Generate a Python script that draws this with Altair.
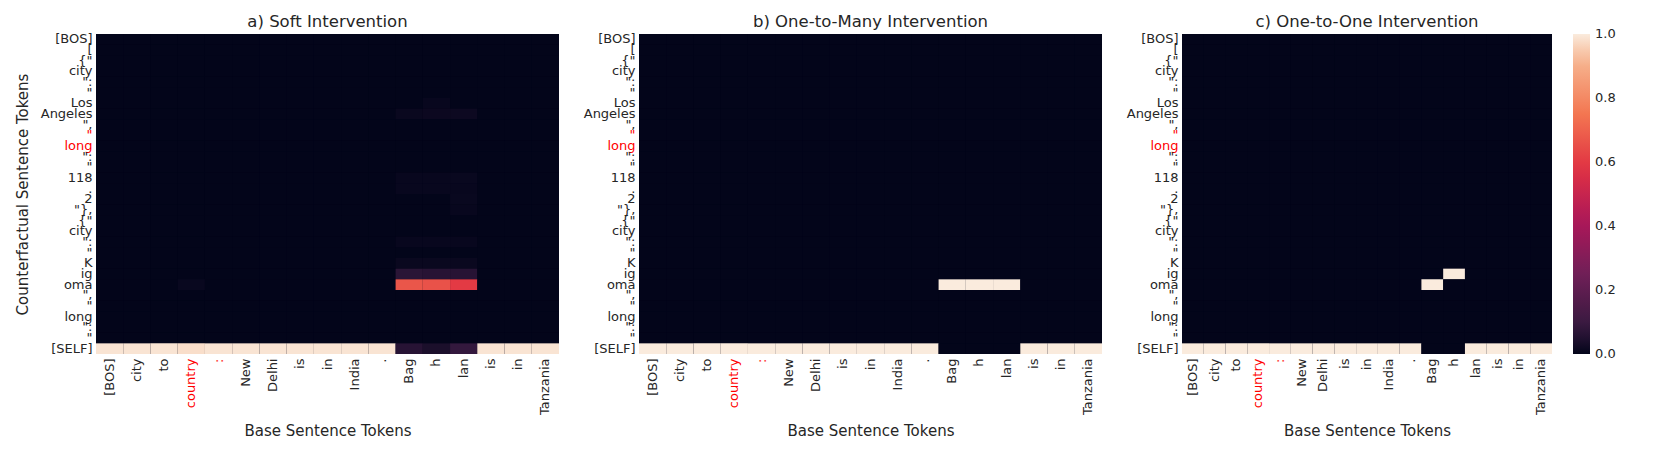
import json
import altair as alt
import pandas as pd

# ---------------- data ----------------
x_tokens = ["[BOS]", "city", "to", "country", ":", "New", "Delhi", "is", "in",
            "India", ".", "Bag", "h", "lan", "is", "in", "Tanzania"]
y_tokens = ["[BOS]", "[", "{\"", "city", "\":", "\"", "Los", "Angeles", "\",", "\"",
            "long", "\":", "\"", "118", ".", "2", "\"},", "{\"", "city", "\":", "\"",
            "K", "ig", "oma", "\",", "\"", "long", "\":", "\"", "[SELF]"]
x_red = [3, 4]
y_red = [9, 10]

panel_titles = ["a) Soft Intervention", "b) One-to-Many Intervention",
                "c) One-to-One Intervention"]
panel_widths = [463, 463, 370]

# last row ([SELF]) of every panel
soft_self = [0.99, 0.99, 0.99, 0.98, 0.99, 0.99, 0.99, 0.99, 0.99, 0.99, 0.99,
             0.06, 0.04, 0.08, 0.99, 0.99, 0.99]
many_self = [1.0, 1.0, 1.0, 1.0, 1.0, 1.0, 1.0, 1.0, 1.0, 1.0, 1.0,
             0.0, 0.0, 0.0, 1.0, 1.0, 1.0]
one_self = [1.0, 1.0, 1.0, 1.0, 1.0, 1.0, 1.0, 1.0, 1.0, 1.0, 1.0,
            0.0, 0.0, 1.0, 1.0, 1.0, 1.0]

# other non-zero cells: (row, col, value)
soft_cells = [(6, 12, 0.008), (7, 11, 0.012), (7, 12, 0.014), (7, 13, 0.016),
              (13, 11, 0.008), (13, 12, 0.008), (13, 13, 0.010),
              (14, 11, 0.008), (14, 12, 0.008), (14, 13, 0.008),
              (15, 13, 0.010), (16, 13, 0.008),
              (19, 11, 0.008), (19, 12, 0.008), (19, 13, 0.008),
              (21, 11, 0.012), (21, 12, 0.012), (21, 13, 0.012),
              (22, 11, 0.065), (22, 12, 0.060), (22, 13, 0.060),
              (23, 3, 0.010),
              (23, 11, 0.67), (23, 12, 0.66), (23, 13, 0.60)]
many_cells = [(23, 11, 1.0), (23, 12, 1.0), (23, 13, 1.0)]
one_cells = [(23, 11, 1.0), (22, 12, 1.0)]

panel_self = [soft_self, many_self, one_self]
panel_cells = [soft_cells, many_cells, one_cells]

# rocket colormap stops (ends nudged a hair past 0 and 1 so the colourbar
# end labels sit centred on the ends, as in matplotlib)
cmap_pos = [-0.0005, 0.0833, 0.25, 0.4167, 0.5833, 0.75, 0.9167, 1.0005]
cmap_col = ["#03051a", "#35193e", "#701f57", "#ad1759", "#e13342", "#f37651",
            "#f6b48f", "#faebdd"]
bar_ticks = [0.0, 0.2, 0.4, 0.6, 0.8, 1.0]

TEXT = "#262626"
FONT = "DejaVu Sans"


def build_df(self_row, cells):
    cd = {(r, c): v for r, c, v in cells}
    recs = []
    n_r = len(y_tokens)
    for r in range(n_r):
        for c in range(len(x_tokens)):
            v = self_row[c] if r == n_r - 1 else cd.get((r, c), 0.0)
            recs.append({"row": r, "col": c, "value": v})
    return pd.DataFrame(recs)


x_label_expr = json.dumps(x_tokens) + "[datum.value]"
y_label_expr = json.dumps(y_tokens) + "[datum.value]"
x_red_test = " || ".join(f"datum.value == {i}" for i in x_red)
y_red_test = " || ".join(f"datum.value == {i}" for i in y_red)

color_scale = alt.Scale(domain=cmap_pos, range=cmap_col, interpolate="rgb")
legend = alt.Legend(title=None, type="gradient", orient="right", direction="vertical",
                    gradientLength=320, gradientThickness=17,
                    gradientStrokeWidth=0, values=bar_ticks, format=".1f",
                    labelFont=FONT, labelFontSize=13, labelColor=TEXT,
                    labelOffset=5, labelOverlap=False,
                    offset=21)


def panel(i):
    df = build_df(panel_self[i], panel_cells[i])
    y_axis = alt.Axis(
        title="Counterfactual Sentence Tokens" if i == 0 else None,
        labelExpr=y_label_expr,
        labelColor={"condition": {"test": y_red_test, "value": "red"}, "value": TEXT},
        ticks=False, domain=False, grid=False, labelPadding=4, labelOverlap=False,
        labelBound=False, labelFont=FONT, labelFontSize=13,
        titleFont=FONT, titleFontSize=15, titleFontWeight="normal",
        titleColor=TEXT, titlePadding=10,
    )
    x_axis = alt.Axis(
        title="Base Sentence Tokens",
        labelExpr=x_label_expr,
        labelColor={"condition": {"test": x_red_test, "value": "red"}, "value": TEXT},
        labelAngle=270, ticks=False, domain=False, grid=False, labelPadding=4,
        labelOverlap=False, labelBound=False, labelFont=FONT, labelFontSize=13,
        titleFont=FONT, titleFontSize=15, titleFontWeight="normal",
        titleColor=TEXT, titlePadding=9,
    )
    return alt.Chart(df).mark_rect().encode(
        x=alt.X("col:O", scale=alt.Scale(paddingInner=0, paddingOuter=0), axis=x_axis),
        y=alt.Y("row:O", scale=alt.Scale(paddingInner=0, paddingOuter=0), axis=y_axis),
        color=alt.Color("value:Q", scale=color_scale, legend=legend),
    ).properties(
        width=panel_widths[i], height=320,
        title=alt.TitleParams(panel_titles[i], frame="group", offset=2,
                              font=FONT, fontSize=16.5, fontWeight="normal",
                              color=TEXT, anchor="middle"),
    )


chart = alt.hconcat(panel(0), panel(1), panel(2), spacing=80, bounds="flush").properties(
    padding={"left": 7, "top": 6, "right": 5, "bottom": 5},
    background="white",
).configure_view(stroke=None, fill="#03051a")

chart.save("out.html", embed_options={"renderer": "svg", "actions": False})
